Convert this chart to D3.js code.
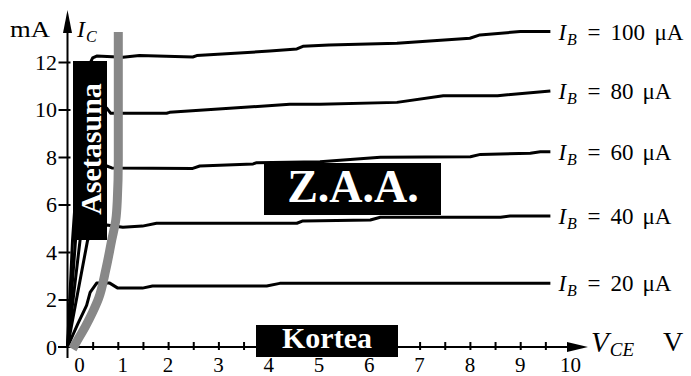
<!DOCTYPE html>
<html>
<head>
<meta charset="utf-8">
<script src="https://cdn.jsdelivr.net/npm/d3@7"></script>
<style>
  body { margin: 0; background: #fff; }
  svg text { font-family: "Liberation Serif", "Times New Roman", serif !important; fill: #000; }
  svg text.inv { fill: #fff; }
</style>
</head>
<body>
<script>
// Transistor output characteristics: collector current I_C (mA) against V_CE (V)

const vceTicks = [0, 1, 2, 3, 4, 5, 6, 7, 8, 9, 10];
const vceMinorTicks = [0.5, 1, 1.5, 2, 2.5, 3, 3.5, 4, 4.5, 5, 5.5, 6, 6.5, 7, 7.5, 8, 8.5, 9, 9.5];
const icTicks = [0, 2, 4, 6, 8, 10, 12];
const baseCurrents = [100, 80, 60, 40, 20]; // µA

// [V_CE (V), I_C (mA)]
const curveIb100 = [[0, 0], [0.1, 4.5], [0.3, 10.5], [0.45, 11.95], [0.5, 12.17], [0.58, 12.25], [1.1, 12.2], [1.43, 12.27],
  [2.49, 12.21], [2.57, 12.27], [4.02, 12.46], [4.56, 12.55], [4.68, 12.66], [5.2, 12.72], [6.55, 12.79],
  [8.0, 13.0], [8.2, 13.14], [9.0, 13.28], [9.6, 13.28]];
const curveIb80 = [[0, 0], [0.16, 4.5], [0.4, 9.0], [0.55, 9.8], [0.78, 10.06], [0.86, 9.84], [1.97, 9.84], [2.03, 9.88],
  [4.42, 10.22], [5.02, 10.22], [6.55, 10.3], [7.47, 10.58], [8.55, 10.58], [9.6, 10.78]];
const curveIb60 = [[0, 0], [0.25, 4.5], [0.5, 7.2], [0.78, 7.62], [0.88, 7.54], [2.49, 7.52], [2.63, 7.62], [3.69, 7.71],
  [3.76, 7.76], [5.02, 7.8], [6.22, 7.99], [8.01, 8.01], [8.21, 8.11], [9.2, 8.16], [9.4, 8.22], [9.6, 8.22]];
const curveIb40 = [[0, 0], [0.4, 4.5], [0.6, 5.0], [0.78, 5.14], [1.1, 5.04], [1.49, 5.09], [1.77, 5.21], [4.56, 5.21],
  [4.68, 5.31], [6.02, 5.35], [6.22, 5.46], [8.61, 5.46], [8.8, 5.52], [9.6, 5.52]];
const curveIb20 = [[0, 0], [0.2, 0.95], [0.38, 1.75], [0.45, 2.3], [0.58, 2.69], [0.84, 2.69], [1.0, 2.48], [1.49, 2.48],
  [1.69, 2.57], [3.96, 2.57], [4.22, 2.68], [9.6, 2.68]];
const curves = [curveIb100, curveIb80, curveIb60, curveIb40, curveIb20];

// Boundary of the saturation region
const saturationV = [0.1, 0.2, 0.36, 0.5, 0.62, 0.76, 0.88, 0.96, 0.99, 1.01, 1.01];
const saturationI = [-0.08, 0.29, 0.88, 1.47, 2.06, 3.24, 4.51, 5.35, 6.19, 7.87, 13.26];

const W = 691, H = 376;
const FONT = "'Liberation Serif', 'Times New Roman', serif";
const svg = d3.select("body").append("svg").attr("width", W).attr("height", H)
  .attr("font-family", FONT);

const x = d3.scaleLinear().domain([0, 10]).range([67.5, 570.5]);
const y = d3.scaleLinear().domain([0, 12]).range([347, 62]);

const line = d3.line().x(d => x(d[0])).y(d => y(d[1]));

// characteristic curves
svg.append("g").selectAll("path").data(curves).join("path")
  .attr("d", line)
  .attr("fill", "none").attr("stroke", "#000").attr("stroke-width", 3)
  .attr("stroke-linejoin", "round");

// axes
const axisG = svg.append("g");
axisG.append("line").attr("x1", 58).attr("x2", 572).attr("y1", y(0)).attr("y2", y(0))
  .attr("stroke", "#000").attr("stroke-width", 2);
axisG.append("path").attr("d", `M588,${y(0)} L567,${y(0) - 5} L567,${y(0) + 5} Z`).attr("fill", "#000");
axisG.append("line").attr("x1", x(0)).attr("x2", x(0)).attr("y1", 358).attr("y2", 30)
  .attr("stroke", "#000").attr("stroke-width", 2);
axisG.append("path").attr("d", `M${x(0)},10 L${x(0) - 4.5},33 L${x(0) + 4.5},33 Z`).attr("fill", "#000");

// x ticks (half-volt steps) and labels
const xAxis = d3.axisBottom(x).tickValues(vceMinorTicks).tickFormat("").tickSizeOuter(0);
svg.append("g").attr("transform", `translate(0,${y(0)})`).call(xAxis)
  .call(g => g.select(".domain").remove())
  .call(g => g.selectAll(".tick line").attr("y1", -5).attr("y2", 3).attr("stroke", "#000").attr("stroke-width", 2));
svg.append("g").selectAll("text").data(vceTicks).join("text")
  .attr("x", d => x(d) + (d === 0 ? 12 : d === 1 ? 5 : 0))
  .attr("y", 372).attr("text-anchor", "middle").attr("font-size", 21)
  .text(d => d);

// y ticks and labels
const yAxis = d3.axisLeft(y).tickValues(icTicks.filter(d => d > 0)).tickFormat("").tickSizeOuter(0);
svg.append("g").attr("transform", `translate(${x(0)},0)`).call(yAxis)
  .call(g => g.select(".domain").remove())
  .call(g => g.selectAll(".tick line").attr("x1", -9).attr("x2", 3).attr("stroke", "#000").attr("stroke-width", 2));
svg.append("g").selectAll("text").data(icTicks).join("text")
  .attr("x", 57).attr("y", d => y(d) + 7.5).attr("text-anchor", "end").attr("font-size", 22)
  .text(d => d);

// axis titles
svg.append("text").attr("x", 10).attr("y", 37).attr("font-size", 23)
  .attr("textLength", 40).attr("lengthAdjust", "spacingAndGlyphs").text("mA");
const ic = svg.append("text").attr("x", 77).attr("y", 37).attr("font-size", 24).attr("font-style", "italic");
ic.append("tspan").text("I");
ic.append("tspan").attr("font-size", 16).attr("dy", 5).attr("dx", 1).text("C");

const vce = svg.append("text").attr("x", 591).attr("y", 352).attr("font-size", 29).attr("font-style", "italic");
vce.append("tspan").text("V");
vce.append("tspan").attr("font-size", 19).attr("dy", 4).attr("dx", 1).text("CE");
svg.append("text").attr("x", 663).attr("y", 351).attr("font-size", 28).text("V");

// base-current labels at the curve ends
curves.forEach((c, i) => {
  const last = c[c.length - 1];
  const x0 = x(last[0]) + 8, y0 = y(last[1]) + 8;
  const num = String(baseCurrents[i]);
  const g = svg.append("g").attr("font-size", 23);
  const t = g.append("text").attr("x", x0).attr("y", y0).attr("font-style", "italic");
  t.append("tspan").text("I");
  t.append("tspan").attr("font-size", 16).attr("dy", 5).attr("dx", 1).text("B");
  g.append("text").attr("x", x0 + 29).attr("y", y0).text("=");
  g.append("text").attr("x", x0 + 52).attr("y", y0).text(num);
  g.append("text").attr("x", x0 + 52 + 12 * num.length + 8).attr("y", y0).text("μA");
});

// region annotations
function regionBox(x0, y0, x1, y1) {
  svg.append("rect").attr("x", x0).attr("y", y0).attr("width", x1 - x0).attr("height", y1 - y0).attr("fill", "#000");
}
regionBox(73, 61, 107, 240);
svg.append("text").attr("class", "inv").attr("transform", "translate(101,149) rotate(-90)")
  .attr("text-anchor", "middle").attr("font-size", 30).attr("font-weight", "bold")
  .text("Asetasuna");

regionBox(264, 163, 441, 215);
svg.append("text").attr("class", "inv").attr("x", 353).attr("y", 202).attr("text-anchor", "middle")
  .attr("font-size", 46).attr("font-weight", "bold").text("Z.A.A.");

regionBox(256, 325, 398, 357);
svg.append("text").attr("class", "inv").attr("x", 327).attr("y", 348).attr("text-anchor", "middle")
  .attr("font-size", 30).attr("font-weight", "bold").text("Kortea");

// saturation boundary
svg.append("path")
  .attr("d", d3.line().curve(d3.curveMonotoneY).x((d, i) => x(saturationV[i])).y(d => y(d))(saturationI))
  .attr("fill", "none").attr("stroke", "#888").attr("stroke-width", 9);
</script>
</body>
</html>
